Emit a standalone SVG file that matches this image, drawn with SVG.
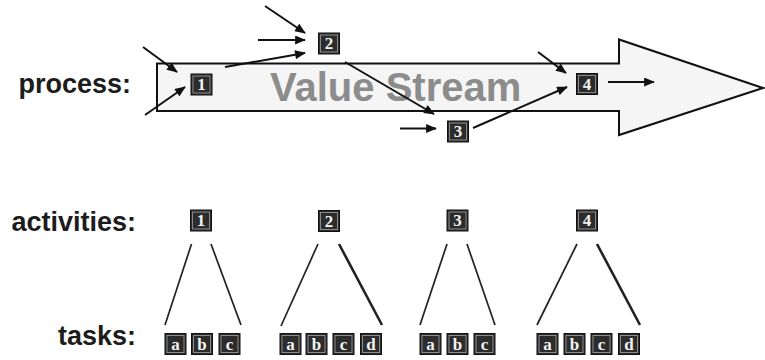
<svg xmlns="http://www.w3.org/2000/svg" width="765" height="360" viewBox="0 0 765 360">
<defs>
<marker id="ah" viewBox="0 0 12 10" refX="11" refY="5" markerWidth="6" markerHeight="4.5" markerUnits="strokeWidth" orient="auto">
<path d="M0,0 L12,5 L0,10 z" fill="#111"/>
</marker>
<style>
.lbl{font-family:"Liberation Sans",Arial,sans-serif;font-weight:bold;font-size:27px;fill:#1c1c1c;text-anchor:end}
.vs{font-family:"Liberation Sans",Arial,sans-serif;font-weight:bold;font-size:40px;fill:#8c8c8c}
.box{fill:#2c2c2c;stroke:#111;stroke-width:1}
.inner{fill:none;stroke:#8a8a8a;stroke-width:1}
.bt{font-family:"Liberation Serif","Times New Roman",serif;font-weight:bold;font-size:17px;fill:#f2f2f2;text-anchor:middle}
.conn{stroke:#111;stroke-width:2;fill:none}
.tree{stroke:#222;stroke-width:1.7;fill:none}
.tree2{stroke:#222;stroke-width:2.6;fill:none}
</style>
</defs>
<rect width="765" height="360" fill="#ffffff"/>

<g id="value-stream">
<polygon points="157,63.5 619,63.5 619,39.5 763,88 619,135 619,111 157,111" fill="#f5f5f5" stroke="#111" stroke-width="2"/>
<text class="vs" x="270" y="101">Value Stream</text>
</g>

<g id="labels">
<text class="lbl" x="131" y="93">process:</text>
<text class="lbl" x="136" y="231">activities:</text>
<text class="lbl" x="136" y="345">tasks:</text>
</g>

<g id="process-1"><rect class="box" x="191" y="74" width="21" height="21"/><rect class="inner" x="193" y="76" width="17" height="17"/><text class="bt" x="201.5" y="90">1</text></g>
<g id="process-2"><rect class="box" x="318.5" y="33" width="21" height="21"/><rect class="inner" x="320.5" y="35" width="17" height="17"/><text class="bt" x="329" y="49">2</text></g>
<g id="process-3"><rect class="box" x="447.5" y="121" width="21" height="21"/><rect class="inner" x="449.5" y="123" width="17" height="17"/><text class="bt" x="458" y="137">3</text></g>
<g id="process-4"><rect class="box" x="576.5" y="73.5" width="21" height="21"/><rect class="inner" x="578.5" y="75.5" width="17" height="17"/><text class="bt" x="587" y="89.5">4</text></g>

<g id="connectors">
<line class="conn" x1="143" y1="47" x2="177" y2="72" marker-end="url(#ah)"/>
<line class="conn" x1="145" y1="115" x2="185" y2="87" marker-end="url(#ah)"/>
<line class="conn" x1="265" y1="6" x2="305" y2="33" marker-end="url(#ah)"/>
<line class="conn" x1="258" y1="40" x2="305" y2="40" marker-end="url(#ah)"/>
<line class="conn" x1="225" y1="67" x2="305" y2="53" marker-end="url(#ah)"/>
<line class="conn" x1="345" y1="62" x2="434" y2="114" marker-end="url(#ah)"/>
<line class="conn" x1="400" y1="128.5" x2="436" y2="128.5" marker-end="url(#ah)"/>
<line class="conn" x1="473" y1="128" x2="567" y2="87" marker-end="url(#ah)"/>
<line class="conn" x1="538" y1="52" x2="566" y2="73" marker-end="url(#ah)"/>
<line class="conn" x1="608" y1="82" x2="654" y2="82" marker-end="url(#ah)"/>
<line class="tree" x1="191.5" y1="244" x2="165" y2="325"/>
<line class="tree" x1="211" y1="244" x2="241" y2="325"/>
<line class="tree" x1="318" y1="244" x2="281" y2="326"/>
<line class="tree2" x1="339" y1="244" x2="382" y2="325"/>
<line class="tree" x1="447" y1="244" x2="420" y2="325"/>
<line class="tree" x1="467" y1="244" x2="495" y2="325"/>
<line class="tree" x1="577" y1="244" x2="537" y2="325"/>
<line class="tree2" x1="597" y1="244" x2="640" y2="325"/>
</g>

<g id="activity-1"><rect class="box" x="190.5" y="210" width="21" height="21"/><rect class="inner" x="192.5" y="212" width="17" height="17"/><text class="bt" x="201" y="226">1</text></g>
<g id="activity-2"><rect class="box" x="318.5" y="210.5" width="21" height="21"/><rect class="inner" x="320.5" y="212.5" width="17" height="17"/><text class="bt" x="329" y="226.5">2</text></g>
<g id="activity-3"><rect class="box" x="447" y="210" width="21" height="21"/><rect class="inner" x="449" y="212" width="17" height="17"/><text class="bt" x="457.5" y="226">3</text></g>
<g id="activity-4"><rect class="box" x="576.5" y="210" width="21" height="21"/><rect class="inner" x="578.5" y="212" width="17" height="17"/><text class="bt" x="587" y="226">4</text></g>

<g id="tasks-1">
<rect class="box" x="165" y="333.5" width="21" height="21"/><rect class="inner" x="167" y="335.5" width="17" height="17"/><text class="bt" x="175.5" y="349.5">a</text>
<rect class="box" x="191.5" y="333.5" width="21" height="21"/><rect class="inner" x="193.5" y="335.5" width="17" height="17"/><text class="bt" x="202" y="349.5">b</text>
<rect class="box" x="219" y="333.5" width="21" height="21"/><rect class="inner" x="221" y="335.5" width="17" height="17"/><text class="bt" x="229.5" y="349.5">c</text>
</g>
<g id="tasks-2">
<rect class="box" x="280" y="333.5" width="21" height="21"/><rect class="inner" x="282" y="335.5" width="17" height="17"/><text class="bt" x="290.5" y="349.5">a</text>
<rect class="box" x="306" y="333.5" width="21" height="21"/><rect class="inner" x="308" y="335.5" width="17" height="17"/><text class="bt" x="316.5" y="349.5">b</text>
<rect class="box" x="333" y="333.5" width="21" height="21"/><rect class="inner" x="335" y="335.5" width="17" height="17"/><text class="bt" x="343.5" y="349.5">c</text>
<rect class="box" x="360.5" y="333.5" width="21" height="21"/><rect class="inner" x="362.5" y="335.5" width="17" height="17"/><text class="bt" x="371" y="349.5">d</text>
</g>
<g id="tasks-3">
<rect class="box" x="420" y="333.5" width="21" height="21"/><rect class="inner" x="422" y="335.5" width="17" height="17"/><text class="bt" x="430.5" y="349.5">a</text>
<rect class="box" x="447" y="333.5" width="21" height="21"/><rect class="inner" x="449" y="335.5" width="17" height="17"/><text class="bt" x="457.5" y="349.5">b</text>
<rect class="box" x="474" y="333.5" width="21" height="21"/><rect class="inner" x="476" y="335.5" width="17" height="17"/><text class="bt" x="484.5" y="349.5">c</text>
</g>
<g id="tasks-4">
<rect class="box" x="537" y="333.5" width="21" height="21"/><rect class="inner" x="539" y="335.5" width="17" height="17"/><text class="bt" x="547.5" y="349.5">a</text>
<rect class="box" x="564" y="333.5" width="21" height="21"/><rect class="inner" x="566" y="335.5" width="17" height="17"/><text class="bt" x="574.5" y="349.5">b</text>
<rect class="box" x="591" y="333.5" width="21" height="21"/><rect class="inner" x="593" y="335.5" width="17" height="17"/><text class="bt" x="601.5" y="349.5">c</text>
<rect class="box" x="618.5" y="333.5" width="21" height="21"/><rect class="inner" x="620.5" y="335.5" width="17" height="17"/><text class="bt" x="629" y="349.5">d</text>
</g>
</svg>
